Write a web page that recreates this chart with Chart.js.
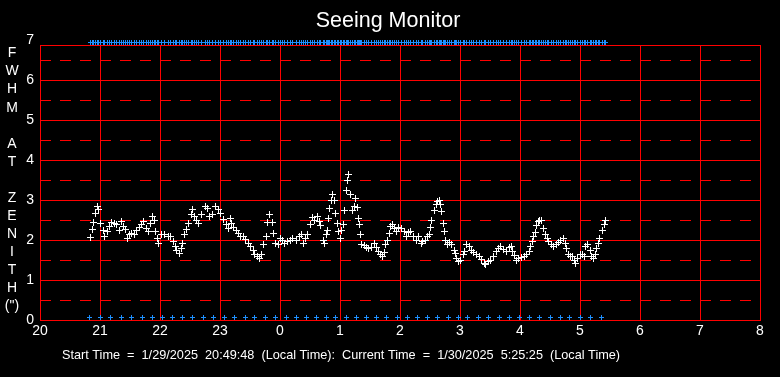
<!DOCTYPE html>
<html>
<head>
<meta charset="utf-8">
<title>Seeing Monitor</title>
<script src="https://cdn.jsdelivr.net/npm/chart.js@4"></script>
<style>
  html, body { margin: 0; padding: 0; background: #000; }
  canvas { display: block; background: #000; }
</style>
</head>
<body>
<canvas id="seeingChart" width="780" height="377"></canvas>
<script>
// observation times (local hour, past midnight continues as 24+)
const obsHours = [
  20.84, 20.87, 20.89, 20.92, 20.95, 20.97, 21.01, 21.06, 21.08, 21.12,
  21.15, 21.19, 21.24, 21.28, 21.32, 21.35, 21.39, 21.42, 21.45, 21.49,
  21.53, 21.57, 21.61, 21.65, 21.69, 21.73, 21.77, 21.81, 21.84, 21.88,
  21.91, 21.93, 21.96, 21.98, 22.03, 22.08, 22.14, 22.18, 22.22, 22.25,
  22.28, 22.32, 22.35, 22.38, 22.41, 22.44, 22.48, 22.52, 22.54, 22.58,
  22.61, 22.64, 22.69, 22.75, 22.79, 22.83, 22.88, 22.93, 22.97, 23.01,
  23.06, 23.10, 23.14, 23.17, 23.19, 23.22, 23.27, 23.31, 23.34, 23.39,
  23.43, 23.47, 23.51, 23.55, 23.58, 23.62, 23.66, 23.69, 23.72, 23.77,
  23.79, 23.83, 23.87, 23.89, 23.93, 23.97, 24.01, 24.04, 24.08, 24.12,
  24.17, 24.21, 24.27, 24.32, 24.35, 24.39, 24.42, 24.46, 24.50, 24.54,
  24.58, 24.63, 24.65, 24.68, 24.72, 24.74, 24.78, 24.79, 24.81, 24.82,
  24.85, 24.87, 24.90, 24.93, 24.96, 24.97, 25.00, 25.02, 25.06, 25.07,
  25.10, 25.13, 25.14, 25.17, 25.21, 25.24, 25.26, 25.29, 25.31, 25.32,
  25.34, 25.36, 25.41, 25.44, 25.48, 25.53, 25.57, 25.61, 25.64, 25.67,
  25.71, 25.74, 25.76, 25.79, 25.82, 25.84, 25.87, 25.91, 25.94, 25.98,
  26.03, 26.07, 26.10, 26.14, 26.18, 26.22, 26.27, 26.31, 26.35, 26.38,
  26.42, 26.46, 26.49, 26.51, 26.53, 26.57, 26.60, 26.63, 26.66, 26.68,
  26.69, 26.72, 26.74, 26.76, 26.79, 26.82, 26.86, 26.90, 26.92, 26.94,
  26.97, 27.01, 27.05, 27.07, 27.11, 27.15, 27.19, 27.23, 27.28, 27.32,
  27.36, 27.40, 27.43, 27.47, 27.51, 27.56, 27.60, 27.64, 27.68, 27.72,
  27.77, 27.82, 27.85, 27.87, 27.91, 27.94, 27.98, 28.03, 28.07, 28.11,
  28.15, 28.18, 28.20, 28.23, 28.25, 28.28, 28.31, 28.33, 28.36, 28.39,
  28.42, 28.45, 28.48, 28.52, 28.56, 28.60, 28.64, 28.68, 28.72, 28.75,
  28.78, 28.81, 28.84, 28.87, 28.91, 28.93, 28.96, 29.00, 29.04, 29.07,
  29.09, 29.13, 29.17, 29.19, 29.23, 29.26, 29.28, 29.31, 29.33, 29.37,
  29.41, 29.42
];

// FWHM at zenith (arcsec)
const fwhm = [
  2.07, 2.27, 2.43, 2.67, 2.85, 2.77, 2.42, 2.25, 2.08, 2.21,
  2.35, 2.43, 2.42, 2.38, 2.23, 2.46, 2.35, 2.27, 2.04, 2.13,
  2.17, 2.15, 2.23, 2.32, 2.39, 2.46, 2.29, 2.21, 2.42, 2.60,
  2.50, 2.21, 2.04, 1.92, 2.13, 2.14, 2.08, 2.08, 1.96, 1.83,
  1.73, 1.67, 1.79, 1.92, 2.14, 2.27, 2.42, 2.63, 2.77, 2.60,
  2.50, 2.42, 2.63, 2.85, 2.79, 2.60, 2.65, 2.83, 2.77, 2.67,
  2.52, 2.38, 2.29, 2.54, 2.42, 2.32, 2.23, 2.17, 2.08, 2.08,
  2.02, 1.92, 1.83, 1.75, 1.65, 1.58, 1.54, 1.63, 1.88, 2.08,
  2.43, 2.65, 2.43, 2.17, 1.92, 1.88, 2.04, 2.00, 1.92, 1.96,
  2.00, 2.04, 1.98, 2.08, 2.13, 1.92, 2.03, 2.13, 2.38, 2.56,
  2.48, 2.58, 2.46, 2.36, 2.00, 1.92, 2.13, 2.25, 2.54, 2.79,
  3.00, 3.14, 2.98, 2.67, 2.42, 2.21, 2.04, 2.25, 2.39, 2.75,
  3.25, 3.50, 3.64, 3.13, 2.73, 2.83, 3.04, 2.81, 2.53, 2.38,
  2.13, 1.89, 1.86, 1.81, 1.78, 1.81, 1.92, 1.81, 1.71, 1.63,
  1.58, 1.69, 1.88, 2.00, 2.17, 2.33, 2.39, 2.29, 2.21, 2.31,
  2.30, 2.21, 2.10, 2.18, 2.21, 2.08, 2.00, 2.08, 1.92, 1.96,
  2.00, 2.08, 2.13, 2.32, 2.50, 2.75, 2.88, 2.96, 2.98, 2.88,
  2.71, 2.42, 2.21, 2.00, 1.88, 1.93, 1.90, 1.75, 1.67, 1.54,
  1.46, 1.50, 1.63, 1.71, 1.88, 1.85, 1.75, 1.68, 1.65, 1.60,
  1.52, 1.42, 1.38, 1.46, 1.50, 1.58, 1.71, 1.79, 1.83, 1.77,
  1.71, 1.81, 1.83, 1.71, 1.61, 1.50, 1.53, 1.56, 1.58, 1.63,
  1.71, 1.83, 1.96, 2.08, 2.19, 2.36, 2.46, 2.50, 2.48, 2.29,
  2.14, 2.04, 1.96, 1.89, 1.83, 1.88, 1.94, 1.98, 2.03, 1.92,
  1.79, 1.64, 1.58, 1.58, 1.50, 1.42, 1.53, 1.63, 1.64, 1.58,
  1.83, 1.88, 1.75, 1.58, 1.54, 1.63, 1.78, 1.92, 2.03, 2.25,
  2.39, 2.48
];

// blue markers along the bottom
const markerHours = [
  20.83, 21.01, 21.18, 21.36, 21.53, 21.71, 21.88, 22.04, 22.21, 22.37,
  22.54, 22.72, 22.89, 23.07, 23.24, 23.42, 23.58, 23.75, 23.93, 24.10,
  24.28, 24.44, 24.61, 24.78, 24.93, 25.10, 25.28, 25.44, 25.61, 25.78,
  25.96, 26.13, 26.29, 26.46, 26.63, 26.80, 26.97, 27.13, 27.31, 27.48,
  27.65, 27.83, 27.99, 28.16, 28.33, 28.50, 28.67, 28.83, 29.01, 29.18,
  29.36
];
const topMarkerLevel = 6.94;
const bottomMarkerLevel = 0.07;

const hourTicks = [20, 21, 22, 23, 24, 25, 26, 27, 28, 29, 30, 31, 32];
const fwhmTicks = [0, 1, 2, 3, 4, 5, 6, 7];
const halfLines = [0.5, 1.5, 2.5, 3.5, 4.5, 5.5, 6.5];
const yTitleLetters = ["F", "W", "H", "M", "", "A", "T", "", "Z", "E", "N", "I", "T", "H", "(\")"];
const footerText = "Start Time  =  1/29/2025  20:49:48  (Local Time):  Current Time  =  1/30/2025  5:25:25  (Local Time)";

const FONT = '"Liberation Sans", Arial, sans-serif';
const RED = "#ff0000";
const BLUE = "#1e90ff";

// small pixel cross used as point style (kept crisp)
function crossImage(color, size) {
  const c = document.createElement("canvas");
  c.width = size;
  c.height = size;
  const g = c.getContext("2d");
  const mid = Math.floor(size / 2);
  g.fillStyle = color;
  g.fillRect(mid, 0, 1, size);
  g.fillRect(0, mid, size, 1);
  return c;
}

const seeingDecor = {
  id: "seeingDecor",
  beforeDatasetsDraw(chart) {
    const { ctx, chartArea, scales } = chart;
    ctx.save();
    ctx.strokeStyle = RED;
    ctx.lineWidth = 1;
    // dashed half-unit lines
    ctx.setLineDash([11, 9]);
    halfLines.forEach(v => {
      const y = Math.round(scales.y.getPixelForValue(v)) + 0.5;
      ctx.beginPath();
      ctx.moveTo(chartArea.left, y);
      ctx.lineTo(chartArea.right, y);
      ctx.stroke();
    });
    ctx.setLineDash([]);
    // top of frame
    const t = Math.round(chartArea.top) + 0.5;
    ctx.beginPath();
    ctx.moveTo(chartArea.left, t);
    ctx.lineTo(chartArea.right, t);
    ctx.stroke();
    ctx.restore();
    ctx.imageSmoothingEnabled = false;
  },
  afterDatasetsDraw(chart) {
    chart.ctx.imageSmoothingEnabled = true;
  },
  afterDraw(chart) {
    const { ctx } = chart;
    ctx.save();
    ctx.fillStyle = "#fff";
    ctx.textAlign = "center";
    ctx.textBaseline = "middle";
    ctx.font = "21.5px " + FONT;
    ctx.fillText("Seeing Monitor", 388, 21);

    ctx.font = "14px " + FONT;
    yTitleLetters.forEach((ch, i) => {
      ctx.fillText(ch, 12, 53.5 + i * 18.05);
    });

    ctx.textAlign = "left";
    ctx.font = "12.7px " + FONT;
    ctx.fillText(footerText, 62, 355);
    ctx.restore();
  }
};

const crossSet = (data, img) => ({
  data: data,
  pointStyle: img,
  pointRadius: 3,
  clip: false
});

new Chart(document.getElementById("seeingChart"), {
  type: "scatter",
  data: {
    datasets: [
      crossSet(markerHours.map(h => ({ x: h, y: bottomMarkerLevel })), crossImage(BLUE, 5)),
      crossSet(obsHours.map(h => ({ x: h, y: topMarkerLevel })), crossImage(BLUE, 5)),
      crossSet(obsHours.map((h, i) => ({ x: h, y: fwhm[i] })), crossImage("#ffffff", 7))
    ]
  },
  options: {
    responsive: false,
    animation: false,
    layout: { padding: { top: 45, right: 20, left: 0, bottom: 0 } },
    plugins: {
      legend: { display: false },
      tooltip: { enabled: false }
    },
    scales: {
      x: {
        type: "linear",
        min: 20,
        max: 32,
        afterBuildTicks: s => { s.ticks = hourTicks.map(v => ({ value: v })); },
        afterFit: s => { s.height = 57; },
        ticks: {
          color: "#fff",
          font: { family: FONT, size: 14 },
          padding: 3,
          autoSkip: false,
          maxRotation: 0,
          callback: v => v % 24
        },
        grid: { color: RED, drawTicks: false },
        border: { color: RED }
      },
      y: {
        min: 0,
        max: 6.875,
        afterBuildTicks: s => { s.ticks = fwhmTicks.map(v => ({ value: v })); },
        afterFit: s => { s.width = 40; },
        ticks: {
          color: "#fff",
          font: { family: FONT, size: 14 },
          padding: 6
        },
        grid: {
          color: c => (c.tick && c.tick.value > 6.875 ? "rgba(0,0,0,0)" : RED),
          drawTicks: false
        },
        border: { color: RED }
      }
    }
  },
  plugins: [seeingDecor]
});
</script>
</body>
</html>
